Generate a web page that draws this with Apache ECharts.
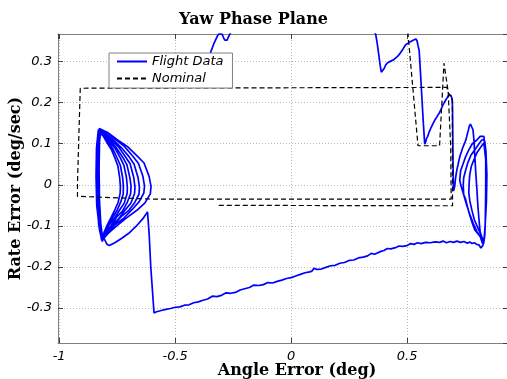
<!DOCTYPE html>
<html>
<head>
<meta charset="utf-8">
<script src="https://cdn.jsdelivr.net/npm/echarts@6/dist/echarts.min.js"></script>
<style>
  html, body { margin: 0; padding: 0; background: #fff; }
  #chart { width: 507px; height: 379px; }
</style>
</head>
<body>
<div id="chart"></div>
<script>
// Axis extents (deg, deg/sec)
const xRange = [-1.005, 0.935];
const yRange = [-0.385, 0.367];

// Flight data, in time order: climb out past the top edge, re-entry on the right,
// thruster dip, right-hand limit cycles, long drift back, left-hand limit cycles.
const climbOut = [
  [-0.362,0.296],[-0.346,0.324],[-0.332,0.345],[-0.318,0.362],[-0.310,0.368],[-0.303,0.371],
  [-0.297,0.366],[-0.292,0.359],[-0.286,0.352],[-0.281,0.349],[-0.276,0.352],[-0.271,0.359],
  [-0.265,0.366],[-0.258,0.373],[-0.230,0.400],[-0.100,0.440],[0.100,0.450],[0.300,0.420],[0.352,0.385]
];
const reentry = [
  [0.365,0.365],[0.371,0.345],[0.378,0.316],[0.384,0.290],[0.389,0.274],[0.392,0.270],[0.396,0.274],
  [0.401,0.283],[0.408,0.292],[0.416,0.297],[0.424,0.298],[0.430,0.301],[0.437,0.302],[0.444,0.305],
  [0.452,0.309],[0.460,0.313],[0.467,0.318],[0.474,0.322],[0.481,0.329],[0.488,0.336],[0.494,0.341],
  [0.502,0.344],[0.510,0.347],[0.518,0.350],[0.526,0.352],[0.532,0.354],[0.538,0.355],[0.543,0.350],
  [0.547,0.339],[0.552,0.327]
];
const thrusterDip = [
  [0.558,0.270],[0.564,0.210],[0.570,0.150],[0.576,0.099],[0.580,0.104],[0.584,0.113],[0.589,0.118],
  [0.594,0.127],[0.599,0.131],[0.604,0.140],[0.609,0.146],[0.614,0.149],[0.619,0.157],[0.624,0.161],
  [0.629,0.166],[0.634,0.170],[0.640,0.176],[0.645,0.182],[0.651,0.190],[0.657,0.197],[0.662,0.201],
  [0.667,0.207],[0.673,0.212],[0.678,0.217],[0.683,0.220],[0.688,0.218],[0.692,0.213],[0.695,0.204],
  [0.696,0.180],[0.697,0.120],[0.698,0.060],[0.699,0.010],[0.700,-0.015],[0.702,-0.017],[0.705,-0.005],
  [0.708,0.012],[0.712,0.028],[0.716,0.040],[0.720,0.050],[0.724,0.061],[0.729,0.072],[0.734,0.080],
  [0.739,0.089],[0.744,0.096],[0.749,0.103],[0.754,0.110],[0.759,0.122],[0.764,0.133],[0.768,0.142],
  [0.773,0.148],[0.777,0.152],[0.780,0.151]
];
const rightLoops = [
  [0.784,0.134],[0.788,0.110],[0.792,0.070],[0.796,0.030],[0.801,-0.012],[0.805,-0.050],[0.810,-0.085],
  [0.815,-0.115],[0.826,-0.134],
  [0.815,-0.126],[0.801,-0.114],[0.786,-0.095],[0.771,-0.073],[0.757,-0.050],[0.744,-0.024],[0.731,0.000],
  [0.727,0.012],[0.731,0.035],[0.740,0.049],[0.752,0.068],[0.766,0.085],[0.781,0.100],[0.801,0.109],
  [0.815,0.118],[0.822,0.122],[0.831,0.118],[0.835,0.117],[0.838,0.080],[0.839,0.061],[0.839,0.000],
  [0.838,-0.050],[0.837,-0.090],[0.835,-0.122],[0.831,-0.139],[0.826,-0.144],
  [0.815,-0.126],[0.792,-0.110],[0.779,-0.090],[0.766,-0.066],[0.752,-0.035],[0.744,-0.024],[0.742,0.000],
  [0.744,0.017],[0.752,0.035],[0.762,0.054],[0.775,0.072],[0.792,0.085],[0.806,0.097],[0.822,0.109],
  [0.831,0.110],[0.835,0.105],[0.840,0.080],[0.844,0.024],[0.842,-0.040],[0.839,-0.073],[0.835,-0.110],
  [0.831,-0.139],
  [0.820,-0.124],[0.805,-0.105],[0.790,-0.085],[0.779,-0.061],[0.770,-0.038],[0.766,-0.019],[0.767,0.000],
  [0.770,0.024],[0.777,0.045],[0.788,0.061],[0.803,0.080],[0.818,0.092],[0.831,0.102],[0.836,0.098],
  [0.839,0.061],[0.840,0.000],[0.839,-0.061],[0.836,-0.110],[0.831,-0.140],[0.826,-0.148],[0.818,-0.154]
];
const driftRamp = [
  [0.810,-0.146],[0.800,-0.145],[0.790,-0.141],[0.780,-0.143],[0.770,-0.139],[0.760,-0.142],[0.745,-0.138],
  [0.730,-0.140],[0.715,-0.137],[0.700,-0.140],[0.685,-0.138],[0.670,-0.141],[0.655,-0.137],[0.640,-0.140],
  [0.620,-0.139],[0.600,-0.141],[0.580,-0.140],[0.560,-0.143],[0.545,-0.141],[0.530,-0.145],[0.515,-0.143],
  [0.500,-0.148],[0.480,-0.150],[0.465,-0.149],[0.450,-0.153],[0.430,-0.156],[0.415,-0.155],[0.400,-0.160],
  [0.387,-0.162],[0.380,-0.166],[0.360,-0.169],[0.345,-0.167],[0.330,-0.173],[0.310,-0.176],[0.290,-0.178],
  [0.270,-0.183],[0.250,-0.184],[0.230,-0.189],[0.210,-0.191],[0.190,-0.196],[0.170,-0.197],[0.150,-0.201],
  [0.130,-0.205],[0.110,-0.206],[0.099,-0.203],[0.090,-0.210],[0.080,-0.212],[0.060,-0.214],[0.055,-0.211],
  [0.040,-0.218],[0.020,-0.222],[0.000,-0.226],[-0.020,-0.228],[-0.040,-0.232],[-0.060,-0.235],
  [-0.080,-0.239],[-0.100,-0.238],[-0.120,-0.243],[-0.140,-0.245],[-0.160,-0.244],[-0.180,-0.250],
  [-0.200,-0.253],[-0.220,-0.256],[-0.240,-0.262],[-0.260,-0.264],[-0.280,-0.263],[-0.300,-0.269],
  [-0.320,-0.272],[-0.340,-0.271],[-0.360,-0.278],[-0.380,-0.281],[-0.400,-0.285],[-0.420,-0.287],
  [-0.440,-0.292],[-0.460,-0.293],[-0.480,-0.297],[-0.500,-0.298],[-0.520,-0.301],[-0.540,-0.303],
  [-0.560,-0.306],[-0.580,-0.309],[-0.591,-0.312],[-0.597,-0.308],[-0.605,-0.200],[-0.612,-0.120],
  [-0.619,-0.066],[-0.640,-0.083],[-0.670,-0.102],[-0.700,-0.118],[-0.730,-0.130],[-0.760,-0.141],
  [-0.784,-0.148],[-0.795,-0.144],[-0.800,-0.138]
];
const leftLoops = [
  [-0.815,-0.120],[-0.828,-0.060],[-0.835,0.000],[-0.836,0.060],[-0.832,0.110],[-0.826,0.136],
  [-0.790,0.127],[-0.748,0.109],[-0.705,0.093],[-0.662,0.069],[-0.634,0.053],[-0.612,0.020],[-0.604,-0.004],
  [-0.607,-0.022],[-0.630,-0.044],[-0.665,-0.062],[-0.708,-0.080],[-0.752,-0.100],[-0.790,-0.119],[-0.814,-0.134],
  [-0.822,-0.100],[-0.829,-0.040],[-0.834,0.030],[-0.833,0.100],[-0.827,0.137],
  [-0.794,0.128],[-0.757,0.110],[-0.720,0.094],[-0.683,0.070],[-0.658,0.052],[-0.639,0.021],[-0.632,-0.003],
  [-0.635,-0.020],[-0.655,-0.041],[-0.685,-0.060],[-0.723,-0.082],[-0.761,-0.098],[-0.794,-0.121],[-0.815,-0.136],
  [-0.826,-0.110],[-0.838,-0.050],[-0.841,0.020],[-0.839,0.090],[-0.831,0.134],
  [-0.797,0.124],[-0.765,0.108],[-0.731,0.090],[-0.698,0.068],[-0.677,0.050],[-0.660,0.018],[-0.654,-0.006],
  [-0.656,-0.023],[-0.674,-0.043],[-0.701,-0.063],[-0.734,-0.078],[-0.768,-0.101],[-0.797,-0.118],[-0.815,-0.138],
  [-0.822,-0.100],[-0.830,-0.030],[-0.832,0.050],[-0.829,0.110],[-0.823,0.133],
  [-0.800,0.126],[-0.771,0.107],[-0.742,0.091],[-0.713,0.067],[-0.694,0.051],[-0.679,0.019],[-0.673,-0.005],
  [-0.675,-0.021],[-0.691,-0.045],[-0.715,-0.061],[-0.744,-0.083],[-0.774,-0.099],[-0.800,-0.122],[-0.816,-0.135],
  [-0.828,-0.090],[-0.836,-0.020],[-0.838,0.060],[-0.834,0.112],[-0.828,0.132],
  [-0.802,0.122],[-0.777,0.105],[-0.751,0.088],[-0.725,0.066],[-0.708,0.049],[-0.695,0.017],[-0.690,-0.004],
  [-0.692,-0.022],[-0.706,-0.042],[-0.727,-0.064],[-0.753,-0.079],[-0.779,-0.102],[-0.802,-0.119],[-0.816,-0.137],
  [-0.820,-0.100],[-0.826,-0.040],[-0.828,0.040],[-0.826,0.105],[-0.821,0.130],
  [-0.804,0.121],[-0.782,0.104],[-0.759,0.089],[-0.736,0.065],[-0.721,0.048],[-0.710,0.018],[-0.706,-0.006],
  [-0.707,-0.021],[-0.719,-0.044],[-0.738,-0.060],[-0.761,-0.081],[-0.784,-0.097],[-0.804,-0.120],[-0.817,-0.134],
  [-0.830,-0.095],[-0.834,-0.030],[-0.836,0.050],[-0.832,0.108],[-0.826,0.128],
  [-0.806,0.119],[-0.788,0.103],[-0.768,0.087],[-0.749,0.064],[-0.736,0.047],[-0.726,0.016],[-0.723,-0.005],
  [-0.724,-0.023],[-0.734,-0.041],[-0.750,-0.062],[-0.770,-0.080],[-0.789,-0.100],[-0.806,-0.117],[-0.817,-0.133],
  [-0.823,-0.090],[-0.828,-0.020],[-0.830,0.060],[-0.827,0.110],[-0.822,0.126],
  [-0.808,0.117],[-0.792,0.101],[-0.775,0.086],[-0.758,0.063],[-0.747,0.046],[-0.739,0.017],[-0.736,-0.004],
  [-0.737,-0.021],[-0.746,-0.043],[-0.760,-0.061],[-0.776,-0.079],[-0.793,-0.098],[-0.808,-0.118],[-0.818,-0.132],
  [-0.824,-0.100],[-0.830,-0.020]
];

// Nominal trajectory
const nominalPath = [
  [0.494,0.430],[0.547,0.095],[0.640,0.095],[0.659,0.296],[0.677,0.227],[0.688,0.093],[0.690,-0.035],
  [-0.590,-0.035],[-0.921,-0.028],[-0.921,0.005],[-0.909,0.235],[0.671,0.237],[0.677,0.224],[0.695,0.212],
  [0.696,-0.051],[-0.317,-0.050]
];

const flightPath = [].concat(climbOut, reentry, thrusterDip, rightLoops, driftRamp, leftLoops);

const chart = echarts.init(document.getElementById('chart'), null, { renderer: 'canvas' });

const boxColor = '#808080';
const tickFont = { fontFamily: 'DejaVu Sans', fontStyle: 'italic', fontSize: 13, color: '#000' };
const nameFont = { fontFamily: 'DejaVu Serif', fontWeight: 'bold', fontSize: 16, color: '#000' };
const gridLine = { show: true, lineStyle: { color: '#b8b8b8', width: 1, type: [1, 2] } };
const innerTick = { show: true, inside: true, length: 5, lineStyle: { color: '#404040', width: 1 } };
const boxLine = { show: true, onZero: false, lineStyle: { color: boxColor, width: 1 } };

chart.setOption({
  animation: false,
  backgroundColor: '#fff',
  title: {
    text: 'Yaw Phase Plane',
    left: 'center',
    top: 7,
    textStyle: { fontFamily: 'DejaVu Serif', fontWeight: 'bold', fontSize: 16, color: '#000' }
  },
  grid: { left: 58, top: 34, width: 450, height: 309, containLabel: false, outerBoundsMode: 'none' },
  legend: {
    orient: 'vertical',
    left: 109,
    top: 53,
    itemWidth: 30,
    itemHeight: 14,
    itemGap: 4,
    padding: [2, 9, 3, 7],
    backgroundColor: '#fff',
    borderColor: boxColor,
    borderWidth: 1,
    borderRadius: 0,
    itemStyle: { opacity: 0 },
    textStyle: { fontFamily: 'DejaVu Sans', fontStyle: 'italic', fontSize: 13, color: '#000' },
    data: ['Flight Data', 'Nominal']
  },
  xAxis: [
    {
      type: 'value', position: 'bottom', min: xRange[0], max: xRange[1], splitNumber: 4,
      axisLine: boxLine,
      axisTick: innerTick,
      axisLabel: Object.assign({ margin: 7, showMinLabel: false, showMaxLabel: false }, tickFont),
      splitLine: gridLine,
      name: 'Angle Error (deg)', nameLocation: 'middle', nameGap: 20, nameMoveOverlap: false,
      nameTextStyle: Object.assign({ padding: [0, 0, 0, 28] }, nameFont)
    },
    {
      type: 'value', position: 'top', min: xRange[0], max: xRange[1], splitNumber: 4,
      axisLine: boxLine,
      axisTick: innerTick, axisLabel: { show: false }, splitLine: { show: false }
    }
  ],
  yAxis: [
    {
      type: 'value', position: 'left', min: yRange[0], max: yRange[1], splitNumber: 7,
      axisLine: boxLine,
      axisTick: innerTick,
      axisLabel: Object.assign({ margin: 6, showMinLabel: false, showMaxLabel: false }, tickFont),
      splitLine: gridLine,
      name: 'Rate Error (deg/sec)', nameLocation: 'middle', nameGap: 34, nameMoveOverlap: false,
      nameTextStyle: nameFont
    },
    {
      type: 'value', position: 'right', min: yRange[0], max: yRange[1], splitNumber: 7,
      axisLine: { show: false, onZero: false }, axisTick: innerTick, axisLabel: { show: false }, splitLine: { show: false }
    }
  ],
  series: [
    {
      name: 'Flight Data', type: 'line', data: flightPath, symbol: 'none', clip: true, z: 2,
      lineStyle: { color: '#0000ff', width: 1.7 }, itemStyle: { color: '#0000ff' }
    },
    {
      name: 'Nominal', type: 'line', data: nominalPath, symbol: 'none', clip: true, z: 3,
      lineStyle: { color: '#000000', width: 1.2, type: [5, 3] }, itemStyle: { color: '#000000' }
    }
  ]
});
</script>
</body>
</html>
